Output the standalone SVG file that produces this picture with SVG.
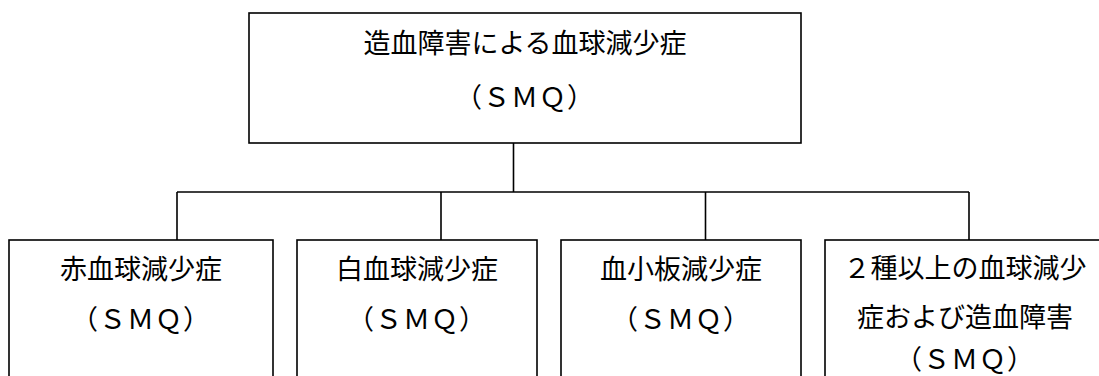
<svg xmlns="http://www.w3.org/2000/svg" width="1099" height="376" viewBox="0 0 1099 376">
<style>
.box{fill:#fff;stroke:#000;stroke-width:1.6}
.ln{fill:none;stroke:#000;stroke-width:1.6}
text{font-family:"Noto Sans CJK JP","Noto Sans",sans-serif;font-size:27px;fill:#000;text-anchor:middle}
.smq{letter-spacing:1px}
</style>
<rect width="1099" height="376" fill="#fff"/>
<g id="connectors">
<path class="ln" d="M513.5 143V192M177 192H969M177 192V240M441 192V240M705.5 192V240M969 192V240"/>
</g>
<g id="root">
<rect class="box" x="249" y="13" width="552" height="130"/>
<text x="525" y="53">造血障害による血球減少症</text>
<text class="smq" x="525" y="107">（ＳＭＱ）</text>
</g>
<g id="rbc">
<rect class="box" x="9" y="240" width="264" height="150"/>
<text x="141" y="279">赤血球減少症</text>
<text class="smq" x="141" y="329">（ＳＭＱ）</text>
</g>
<g id="wbc">
<rect class="box" x="297" y="240" width="240" height="150"/>
<text x="417" y="279">白血球減少症</text>
<text class="smq" x="417" y="329">（ＳＭＱ）</text>
</g>
<g id="plt">
<rect class="box" x="561" y="240" width="240" height="150"/>
<text x="681" y="279">血小板減少症</text>
<text class="smq" x="681" y="329">（ＳＭＱ）</text>
</g>
<g id="multi">
<rect class="box" x="825" y="240" width="281" height="150"/>
<text x="965" y="278">２種以上の血球減少</text>
<text x="965" y="327">症および造血障害</text>
<text class="smq" x="965" y="369">（ＳＭＱ）</text>
</g>
</svg>
